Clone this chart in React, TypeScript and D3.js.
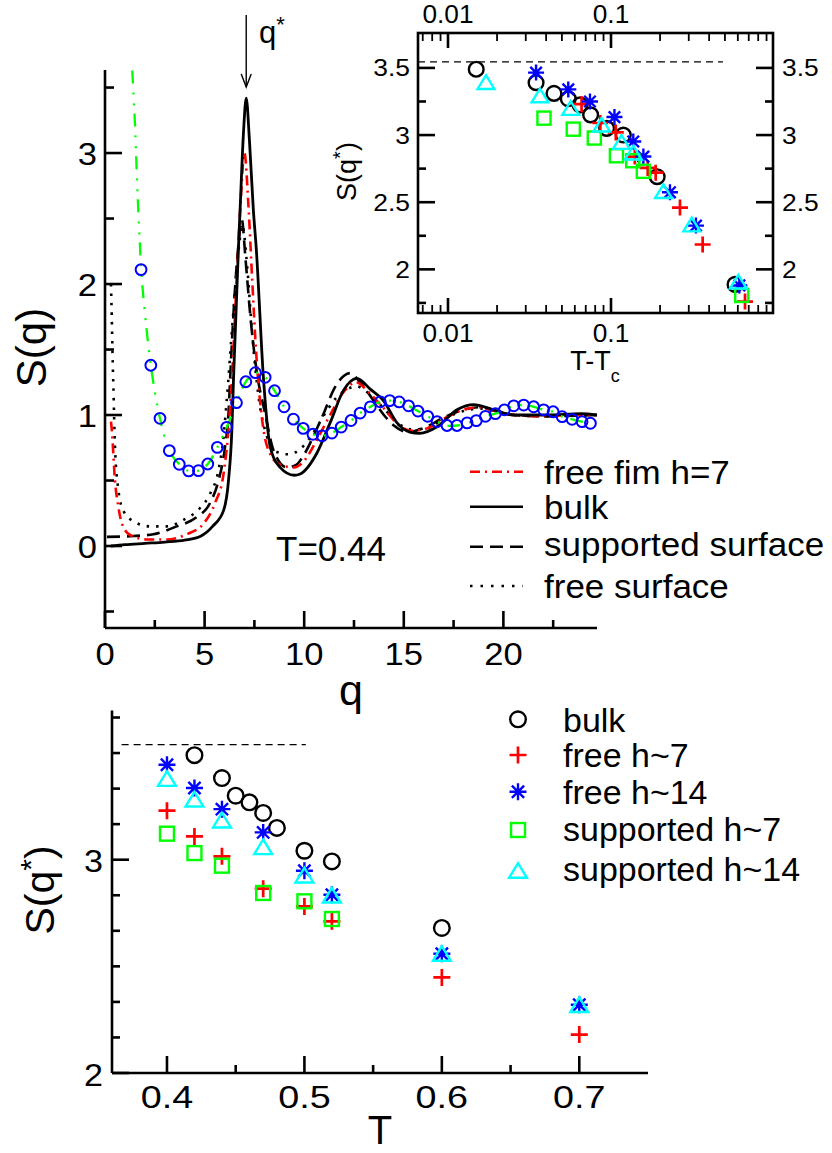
import React from 'react';
import * as d3 from 'd3';

// ---------------- Main panel data: S(q) at T=0.44 ----------------
const qBulk = [0.3, 1, 2, 3, 4, 4.8, 5.4, 5.95, 6.2, 6.37, 6.45, 6.7, 6.78, 6.95, 7.09, 7.25, 7.45, 7.59, 7.96, 8.29, 8.79, 9.5, 9.8, 10.64, 11.3, 11.98, 12.65, 13.3, 13.98, 14.66, 15.3, 15.8, 16.67, 17.67, 18.5, 19.5, 20.5, 22.2, 23.9, 24.7];
const sBulk = [0.0, 0.01, 0.02, 0.03, 0.045, 0.075, 0.15, 0.27, 0.5, 0.89, 1.27, 2.28, 2.56, 3.15, 3.42, 3.1, 2.56, 2.28, 1.27, 0.76, 0.6, 0.54, 0.55, 0.71, 0.94, 1.19, 1.28, 1.2, 1.11, 0.94, 0.87, 0.86, 0.91, 1.04, 1.08, 1.04, 1.0, 1.0, 1.01, 1.0];

const qFilm7 = [0.3, 0.34, 0.5, 0.67, 0.84, 1.26, 2.1, 3.1, 4.1, 4.94, 5.53, 5.95, 6.2, 6.37, 6.6, 6.8, 7.0, 7.2, 7.4, 7.6, 7.9, 8.3, 8.8, 9.5, 10.0, 10.6, 11.3, 12.0, 12.6, 13.2, 14.0, 14.7, 15.4, 16.2, 17.0, 18.0, 18.8, 19.6, 20.6, 22, 23.5, 24.7];
const sFilm7 = [0.95, 0.89, 0.5, 0.3, 0.175, 0.084, 0.05, 0.05, 0.09, 0.17, 0.33, 0.55, 0.89, 1.27, 2.0, 2.6, 3.0, 2.6, 2.0, 1.45, 0.95, 0.7, 0.62, 0.6, 0.65, 0.8, 1.0, 1.18, 1.25, 1.18, 1.05, 0.93, 0.88, 0.9, 0.97, 1.04, 1.06, 1.03, 1.0, 0.99, 1.0, 1.0];

const qSupp = [0.1, 1.42, 2.43, 3.6, 4.6, 5.28, 5.7, 6.03, 6.2, 6.28, 6.5, 6.7, 6.87, 7.05, 7.3, 7.6, 8.04, 8.46, 9.13, 9.6, 10.0, 10.5, 11.0, 11.5, 12.0, 12.3, 12.7, 13.3, 14.0, 14.5, 15.2, 16.0, 17.0, 18.0, 18.8, 19.6, 20.5, 22, 24.7];
const sSupp = [0.07, 0.076, 0.09, 0.15, 0.22, 0.33, 0.5, 0.76, 1.01, 1.27, 1.9, 2.3, 2.49, 2.2, 1.75, 1.35, 1.01, 0.73, 0.6, 0.62, 0.7, 0.85, 1.02, 1.2, 1.3, 1.32, 1.27, 1.15, 1.0, 0.92, 0.87, 0.9, 0.98, 1.04, 1.06, 1.03, 1.0, 0.99, 1.0];

const qFreeS = [0.3, 0.34, 0.38, 0.42, 0.5, 0.67, 0.92, 1.42, 2.26, 3.1, 3.94, 4.77, 5.28, 5.7, 5.95, 6.11, 6.4, 6.7, 6.9, 7.1, 7.4, 7.7, 8.1, 8.6, 9.2, 9.8, 10.4, 11.0, 11.6, 12.2, 12.6, 13.2, 14.0, 14.7, 15.4, 16.2, 17.0, 18.0, 18.8, 19.6, 20.6, 22, 24.7];
const sFreeS = [2.0, 1.75, 1.45, 1.22, 0.76, 0.43, 0.27, 0.19, 0.15, 0.15, 0.2, 0.29, 0.4, 0.58, 0.83, 1.11, 1.7, 2.25, 2.45, 2.2, 1.6, 1.15, 0.85, 0.72, 0.7, 0.74, 0.85, 1.0, 1.13, 1.2, 1.22, 1.17, 1.05, 0.94, 0.89, 0.9, 0.97, 1.03, 1.05, 1.03, 1.0, 0.99, 1.0];

// green dash-dot-dot line: low-q start then through the circles
const qGreenStart = [1.37, 1.51, 1.62, 1.76];
const sGreenStart = [3.63, 3.2, 2.74, 2.28];
const qCirc = [1.81, 2.30, 2.76, 3.23, 3.73, 4.20, 4.69, 5.16, 5.64, 6.11, 6.60, 7.07, 7.55, 8.04, 8.51, 8.99, 9.46, 9.95, 10.44, 10.90, 11.39, 11.86, 12.35, 12.81, 13.32, 13.82, 14.29, 14.77, 15.24, 15.71, 16.20, 16.67, 17.17, 17.67, 18.18, 18.64, 19.10, 19.60, 20.05, 20.52, 21.02, 21.52, 22.02, 22.50, 22.95, 23.45, 23.95, 24.37];
const sCirc = [2.11, 1.38, 0.975, 0.728, 0.624, 0.573, 0.575, 0.626, 0.753, 0.906, 1.094, 1.254, 1.323, 1.288, 1.186, 1.063, 0.968, 0.898, 0.853, 0.841, 0.862, 0.908, 0.958, 1.015, 1.062, 1.101, 1.11, 1.10, 1.07, 1.03, 0.99, 0.95, 0.92, 0.92, 0.94, 0.957, 0.99, 1.01, 1.04, 1.07, 1.076, 1.063, 1.04, 1.025, 0.987, 0.967, 0.949, 0.937];

const mainXTicks = [0, 5, 10, 15, 20];
const mainXMinor = [2.5, 7.5, 12.5, 17.5, 22.5];
const mainYTicks = [0, 1, 2, 3];
const mainYMinor = [-0.5, 0.5, 1.5, 2.5, 3.5];
const mainLegend = ['free fim h=7', 'bulk', 'supported surface', 'free surface'];

// ---------------- Inset data: S(q*) vs T-Tc ----------------
const inBulkX = [0.0149, 0.0347, 0.0447, 0.0547, 0.0646, 0.075, 0.094, 0.119, 0.192, 0.577];
const inBulkY = [3.49, 3.39, 3.31, 3.27, 3.225, 3.15, 3.05, 3.0, 2.69, 1.888];
const inFree7X = [0.066, 0.086, 0.107, 0.14, 0.168, 0.188, 0.265, 0.365, 0.664];
const inFree7Y = [3.23, 3.09, 3.02, 2.84, 2.755, 2.72, 2.46, 2.185, 1.76];
const inFree14X = [0.0347, 0.0547, 0.0743, 0.105, 0.137, 0.158, 0.23, 0.332, 0.613];
const inFree14Y = [3.465, 3.34, 3.25, 3.134, 2.952, 2.84, 2.574, 2.326, 1.88];
const inSup7X = [0.0388, 0.0587, 0.079, 0.108, 0.136, 0.158, 0.634];
const inSup7Y = [3.126, 3.044, 2.978, 2.846, 2.809, 2.73, 1.806];
const inSup14X = [0.0171, 0.0367, 0.0566, 0.0877, 0.116, 0.137, 0.21, 0.313, 0.604];
const inSup14Y = [3.386, 3.287, 3.193, 3.069, 2.94, 2.861, 2.574, 2.326, 1.90];
const inLimit = 3.545;
const inXTicks = [0.01, 0.1];
const inXTickLabels = ['0.01', '0.1'];
const inXMinor = [0.007, 0.008, 0.009, 0.02, 0.03, 0.04, 0.05, 0.06, 0.07, 0.08, 0.09, 0.2, 0.3, 0.4, 0.5, 0.6, 0.7, 0.8, 0.9];
const inYTicks = [2, 2.5, 3, 3.5];
const inYTickLabels = ['2', '2.5', '3', '3.5'];
const inYMinor = [1.75, 2.25, 2.75, 3.25];

// ---------------- Bottom panel data: S(q*) vs T ----------------
const tBulk = [0.42, 0.44, 0.45, 0.46, 0.47, 0.48, 0.50, 0.52, 0.60];
const sqBulk = [3.49, 3.383, 3.30, 3.269, 3.219, 3.149, 3.042, 2.992, 2.68];
const tFree7 = [0.40, 0.42, 0.44, 0.47, 0.50, 0.52, 0.60, 0.70];
const sqFree7 = [3.23, 3.109, 3.016, 2.864, 2.781, 2.711, 2.448, 2.18];
const tFree14 = [0.40, 0.42, 0.44, 0.47, 0.50, 0.52, 0.60, 0.70];
const sqFree14 = [3.445, 3.336, 3.237, 3.128, 2.948, 2.836, 2.559, 2.32];
const tSup7 = [0.40, 0.42, 0.44, 0.47, 0.50, 0.52];
const sqSup7 = [3.122, 3.031, 2.972, 2.844, 2.805, 2.722];
const tSup14 = [0.40, 0.42, 0.44, 0.47, 0.50, 0.52, 0.60, 0.70];
const sqSup14 = [3.375, 3.278, 3.18, 3.055, 2.922, 2.828, 2.555, 2.315];
const botLimit = 3.54;
const botLimitRange = [0.367, 0.501];
const botXTicks = [0.4, 0.5, 0.6, 0.7];
const botXMinor = [0.45, 0.55, 0.65];
const botYTicks = [2, 3];
const botYMinor = [2.1667, 2.3333, 2.5, 2.6667, 2.8333, 3.1667, 3.3333, 3.5, 3.6667];
const botLegend = ['bulk', 'free h~7', 'free h~14', 'supported h~7', 'supported h~14'];

const FONT = "'Liberation Sans', Arial, Helvetica, sans-serif";
const RED = '#ff0000';
const BLUE = '#0000ff';
const GREEN = '#00ff00';
const CYAN = '#00ffff';

type MType = 'circle' | 'plus' | 'star' | 'square' | 'triangle';

function Marker({ type, x, y, s, color }: { type: MType; x: number; y: number; s: number; color: string }) {
  const sw = 2.4;
  if (type === 'circle') return <circle cx={x} cy={y} r={s * 0.92} fill="none" stroke={color} strokeWidth={sw} />;
  if (type === 'plus') return <path d={`M${x - s},${y}H${x + s}M${x},${y - s}V${y + s}`} stroke={color} strokeWidth={sw + 0.3} fill="none" />;
  if (type === 'star') {
    const d = s * 0.72;
    return <path d={`M${x},${y - s}V${y + s}M${x - s},${y}H${x + s}M${x - d},${y - d}L${x + d},${y + d}M${x - d},${y + d}L${x + d},${y - d}`} stroke={color} strokeWidth={sw} fill="none" />;
  }
  if (type === 'square') {
    const h = s * 0.82;
    return <rect x={x - h} y={y - h} width={2 * h} height={2 * h} fill="none" stroke={color} strokeWidth={sw} />;
  }
  const hw = s * 1.05;
  return <path d={`M${x},${y - s}L${x + hw},${y + s * 0.72}L${x - hw},${y + s * 0.72}Z`} fill="none" stroke={color} strokeWidth={sw} />;
}

function Txt({ x, y, size, anchor = 'start', rotate = 0, sx = 1, children }: any) {
  return (
    <text transform={`translate(${x},${y}) rotate(${rotate}) scale(${sx},1)`} fontSize={size} textAnchor={anchor} fontFamily={FONT} fill="#000">
      {children}
    </text>
  );
}

export default function App() {
  // ---- main panel scales ----
  const mx = d3.scaleLinear().domain([0, 24.7]).range([105, 597]);
  const my = d3.scaleLinear().domain([-0.626, 3.634]).range([628, 70]);
  const line = (qs: number[], ss: number[], curve: any = d3.curveMonotoneX) =>
    d3.line<number>().x((_, i) => mx(qs[i])).y((_, i) => my(ss[i])).curve(curve)(qs.map((_, i) => i)) || '';
  const qGreen = qGreenStart.concat(qCirc);
  const sGreen = sGreenStart.concat(sCirc);

  // ---- inset scales ----
  const ix = d3.scaleLog().domain([Math.pow(10, -2.184), Math.pow(10, -0.0061)]).range([418, 773]);
  const iy = d3.scaleLinear().domain([1.675, 3.76]).range([313, 33]);

  // ---- bottom scales ----
  const bx = d3.scaleLinear().domain([0.36, 0.75]).range([112, 648]);
  const by = d3.scaleLinear().domain([2, 3.7]).range([1073, 710.4]);

  const AX = 2.6;
  const black = '#000';

  const inSeries: { xs: number[]; ys: number[]; t: MType; c: string }[] = [
    { xs: inBulkX, ys: inBulkY, t: 'circle', c: black },
    { xs: inFree7X, ys: inFree7Y, t: 'plus', c: RED },
    { xs: inFree14X, ys: inFree14Y, t: 'star', c: BLUE },
    { xs: inSup7X, ys: inSup7Y, t: 'square', c: GREEN },
    { xs: inSup14X, ys: inSup14Y, t: 'triangle', c: CYAN },
  ];
  const botSeries: { xs: number[]; ys: number[]; t: MType; c: string }[] = [
    { xs: tBulk, ys: sqBulk, t: 'circle', c: black },
    { xs: tFree7, ys: sqFree7, t: 'plus', c: RED },
    { xs: tFree14, ys: sqFree14, t: 'star', c: BLUE },
    { xs: tSup7, ys: sqSup7, t: 'square', c: GREEN },
    { xs: tSup14, ys: sqSup14, t: 'triangle', c: CYAN },
  ];

  const legendStyles = [
    { stroke: RED, dash: '10 5 2 5' },
    { stroke: black, dash: '' },
    { stroke: black, dash: '13 7' },
    { stroke: black, dash: '2.5 8' },
  ];
  const legendLineY = [471.7, 506.7, 546.7, 586];
  const legendTextY = [483.5, 519, 556, 597.7];
  const botLegRowY = [719.3, 755, 791.7, 830, 871.7];
  const botLegTextY = [731.7, 767, 804, 841, 880.7];

  return (
    <svg width={832} height={1153} viewBox="0 0 832 1153" style={{ display: 'block', position: 'absolute', left: 0, top: 0 }}>
      <rect x={0} y={0} width={832} height={1153} fill="#fff" />
      <defs>
        <clipPath id="mainClip">
          <rect x={105} y={70} width={492} height={558} />
        </clipPath>
      </defs>

      {/* ================= MAIN PANEL ================= */}
      <g clipPath="url(#mainClip)" fill="none">
        <path d={line(qFreeS, sFreeS)} stroke={black} strokeWidth={2.6} strokeDasharray="2.5 7" />
        <path d={line(qSupp, sSupp)} stroke={black} strokeWidth={2.6} strokeDasharray="13 7" />
        <path d={line(qFilm7, sFilm7)} stroke={RED} strokeWidth={2.6} strokeDasharray="10 5 2 5" />
        <path d={line(qBulk, sBulk)} stroke={black} strokeWidth={2.8} />
        <path d={line(qGreen, sGreen, d3.curveCatmullRom)} stroke={GREEN} strokeWidth={2.3} strokeDasharray="13 9 2 9 2 8" />
        {qCirc.map((q, i) => (
          <circle key={i} cx={mx(q)} cy={my(sCirc[i])} r={5.4} fill="none" stroke={BLUE} strokeWidth={2} />
        ))}
      </g>
      {/* axes */}
      <line x1={105} y1={70} x2={105} y2={628} stroke={black} strokeWidth={AX} />
      <line x1={105} y1={628} x2={597} y2={628} stroke={black} strokeWidth={AX} />
      {mainYTicks.map((v) => (
        <g key={'my' + v}>
          <line x1={105} x2={122} y1={my(v)} y2={my(v)} stroke={black} strokeWidth={AX} />
          <Txt x={97} y={my(v) + 12} size={32} anchor="end" sx={1.08}>{String(v)}</Txt>
        </g>
      ))}
      {mainYMinor.map((v) => (
        <line key={'mym' + v} x1={105} x2={114} y1={my(v)} y2={my(v)} stroke={black} strokeWidth={AX} />
      ))}
      {mainXTicks.map((v) => (
        <g key={'mx' + v}>
          <line x1={mx(v)} x2={mx(v)} y1={628} y2={611} stroke={black} strokeWidth={AX} />
          <Txt x={mx(v)} y={665} size={32} anchor="middle" sx={1.08}>{String(v)}</Txt>
        </g>
      ))}
      {mainXMinor.map((v) => (
        <line key={'mxm' + v} x1={mx(v)} x2={mx(v)} y1={628} y2={620} stroke={black} strokeWidth={AX} />
      ))}
      <Txt x={351} y={705} size={43} anchor="middle">q</Txt>
      <Txt x={46} y={347.5} size={42} anchor="middle" rotate={-90}>S(q)</Txt>
      {/* q* arrow */}
      <line x1={mx(7.09)} x2={mx(7.09)} y1={15} y2={87} stroke={black} strokeWidth={1.4} />
      <path d={`M${mx(7.09) - 5},${74}L${mx(7.09)},${87}L${mx(7.09) + 5},${74}`} fill="none" stroke={black} strokeWidth={1.4} />
      <text x={259} y={43} fontSize={31} fontFamily={FONT}>
        q<tspan fontSize={22} dy={-11}>*</tspan>
      </text>
      <Txt x={276} y={561} size={35}>T=0.44</Txt>
      {/* main legend */}
      {mainLegend.map((label, i) => (
        <g key={'ml' + i}>
          <line x1={470} x2={523} y1={legendLineY[i]} y2={legendLineY[i]} stroke={legendStyles[i].stroke} strokeWidth={2.6} strokeDasharray={legendStyles[i].dash || undefined} />
          <Txt x={544} y={legendTextY[i]} size={34} sx={1.03}>{label}</Txt>
        </g>
      ))}

      {/* ================= INSET ================= */}
      <line x1={418} x2={ix(0.486)} y1={iy(inLimit)} y2={iy(inLimit)} stroke={black} strokeWidth={1.3} strokeDasharray="7 5" />
      {inSeries.map((s, k) => (
        <g key={'is' + k}>
          {s.xs.map((x, i) => (
            <Marker key={i} type={s.t} x={ix(x)} y={iy(s.ys[i])} s={8} color={s.c} />
          ))}
        </g>
      ))}
      <rect x={418} y={33} width={355} height={280} fill="none" stroke={black} strokeWidth={AX} />
      {inYTicks.map((v, i) => (
        <g key={'iy' + v}>
          <line x1={418} x2={435} y1={iy(v)} y2={iy(v)} stroke={black} strokeWidth={AX} />
          <line x1={773} x2={756} y1={iy(v)} y2={iy(v)} stroke={black} strokeWidth={AX} />
          <Txt x={410} y={iy(v) + 8.5} size={24} anchor="end" sx={1.1}>{inYTickLabels[i]}</Txt>
          <Txt x={782} y={iy(v) + 8.5} size={24} sx={1.1}>{inYTickLabels[i]}</Txt>
        </g>
      ))}
      {inYMinor.map((v) => (
        <g key={'iym' + v}>
          <line x1={418} x2={426} y1={iy(v)} y2={iy(v)} stroke={black} strokeWidth={AX} />
          <line x1={773} x2={765} y1={iy(v)} y2={iy(v)} stroke={black} strokeWidth={AX} />
        </g>
      ))}
      {inXTicks.map((v, i) => (
        <g key={'ix' + v}>
          <line x1={ix(v)} x2={ix(v)} y1={33} y2={48} stroke={black} strokeWidth={AX} />
          <line x1={ix(v)} x2={ix(v)} y1={313} y2={298} stroke={black} strokeWidth={AX} />
          <Txt x={ix(v)} y={23} size={25} anchor="middle" sx={1.05}>{inXTickLabels[i]}</Txt>
          <Txt x={ix(v)} y={342} size={25} anchor="middle" sx={1.05}>{inXTickLabels[i]}</Txt>
        </g>
      ))}
      {inXMinor.map((v) => (
        <g key={'ixm' + v}>
          <line x1={ix(v)} x2={ix(v)} y1={33} y2={41} stroke={black} strokeWidth={1.8} />
          <line x1={ix(v)} x2={ix(v)} y1={313} y2={305} stroke={black} strokeWidth={1.8} />
        </g>
      ))}
      <text x={595} y={370} fontSize={27} fontFamily={FONT} textAnchor="middle">
        T-T<tspan fontSize={18} dy={12}>c</tspan>
      </text>
      <text transform="translate(356,171.5) rotate(-90)" fontSize={27} fontFamily={FONT} textAnchor="middle">
        S(q<tspan fontSize={20} dy={-9}>*</tspan><tspan dy={9}>)</tspan>
      </text>

      {/* ================= BOTTOM PANEL ================= */}
      <line x1={bx(botLimitRange[0])} x2={bx(botLimitRange[1])} y1={by(botLimit)} y2={by(botLimit)} stroke={black} strokeWidth={1.3} strokeDasharray="7 5" />
      {botSeries.map((s, k) => (
        <g key={'bs' + k}>
          {s.xs.map((x, i) => (
            <Marker key={i} type={s.t} x={bx(x)} y={by(s.ys[i])} s={8.5} color={s.c} />
          ))}
        </g>
      ))}
      <line x1={112} y1={710.4} x2={112} y2={1073} stroke={black} strokeWidth={AX} />
      <line x1={112} y1={1073} x2={648} y2={1073} stroke={black} strokeWidth={AX} />
      {botYTicks.map((v) => (
        <g key={'by' + v}>
          <line x1={112} x2={129} y1={by(v)} y2={by(v)} stroke={black} strokeWidth={AX} />
          <Txt x={103} y={by(v) + 12.5} size={31} anchor="end" sx={1.1}>{String(v)}</Txt>
        </g>
      ))}
      {botYMinor.map((v) => (
        <line key={'bym' + v} x1={112} x2={120} y1={by(v)} y2={by(v)} stroke={black} strokeWidth={AX} />
      ))}
      {botXTicks.map((v) => (
        <g key={'bx' + v}>
          <line x1={bx(v)} x2={bx(v)} y1={1073} y2={1056} stroke={black} strokeWidth={AX} />
          <Txt x={bx(v)} y={1108} size={32} anchor="middle" sx={1.18}>{String(v)}</Txt>
        </g>
      ))}
      {botXMinor.map((v) => (
        <line key={'bxm' + v} x1={bx(v)} x2={bx(v)} y1={1073} y2={1065} stroke={black} strokeWidth={AX} />
      ))}
      <Txt x={380} y={1144} size={40} anchor="middle">T</Txt>
      <text transform="translate(54,890) rotate(-90)" fontSize={41} fontFamily={FONT} textAnchor="middle">
        S(q<tspan fontSize={30} dy={-13}>*</tspan><tspan dy={13}>)</tspan>
      </text>
      {botLegend.map((label, i) => (
        <g key={'bl' + i}>
          <Marker type={botSeries[i].t} x={518} y={botLegRowY[i]} s={8.5} color={botSeries[i].c} />
          <Txt x={563} y={botLegTextY[i]} size={33} sx={1.03}>{label}</Txt>
        </g>
      ))}
    </svg>
  );
}
